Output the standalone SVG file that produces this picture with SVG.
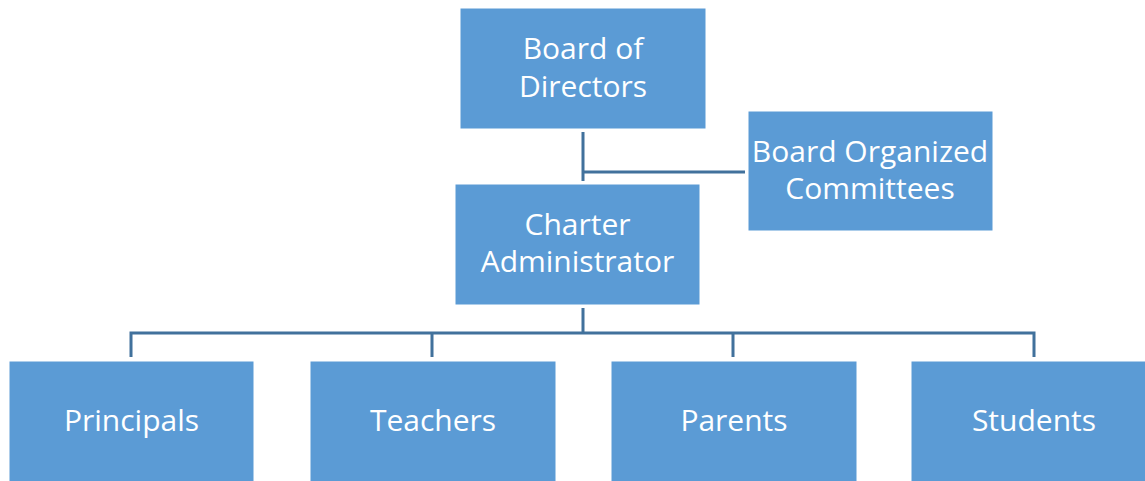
<svg xmlns="http://www.w3.org/2000/svg" width="1145" height="481" viewBox="0 0 1145 481">
<style>
.box{fill:#5B9BD5;stroke:#ffffff;stroke-width:1}
.t{font-family:"Open Sans","Noto Sans",sans-serif;font-size:30px;fill:#ffffff;text-anchor:middle}
.c{fill:none;stroke:#41719C;stroke-width:3}
</style>
<rect width="1145" height="481" fill="#ffffff"/>
<g id="connectors">
<path class="c" d="M583 132V181M583 172H745"/>
<path class="c" d="M583 308V333M131 357V333H1034V357M432 333V357M733 333V357"/>
</g>
<g id="board"><rect class="box" x="460" y="8" width="246" height="121"/><text class="t" x="583" y="59">Board of</text><text class="t" x="583" y="97">Directors</text></g>
<g id="committees"><rect class="box" x="748" y="111" width="245" height="120"/><text class="t" x="870" y="162">Board Organized</text><text class="t" x="870" y="199">Committees</text></g>
<g id="charter"><rect class="box" x="455" y="184" width="245" height="121"/><text class="t" x="577.5" y="235">Charter</text><text class="t" x="577.5" y="272">Administrator</text></g>
<g id="principals"><rect class="box" x="9" y="361" width="245" height="125"/><text class="t" x="131.5" y="431">Principals</text></g>
<g id="teachers"><rect class="box" x="310" y="361" width="246" height="125"/><text class="t" x="433" y="431">Teachers</text></g>
<g id="parents"><rect class="box" x="611" y="361" width="246" height="125"/><text class="t" x="734" y="431">Parents</text></g>
<g id="students"><rect class="box" x="911" y="361" width="246" height="125"/><text class="t" x="1034" y="431">Students</text></g>
</svg>
